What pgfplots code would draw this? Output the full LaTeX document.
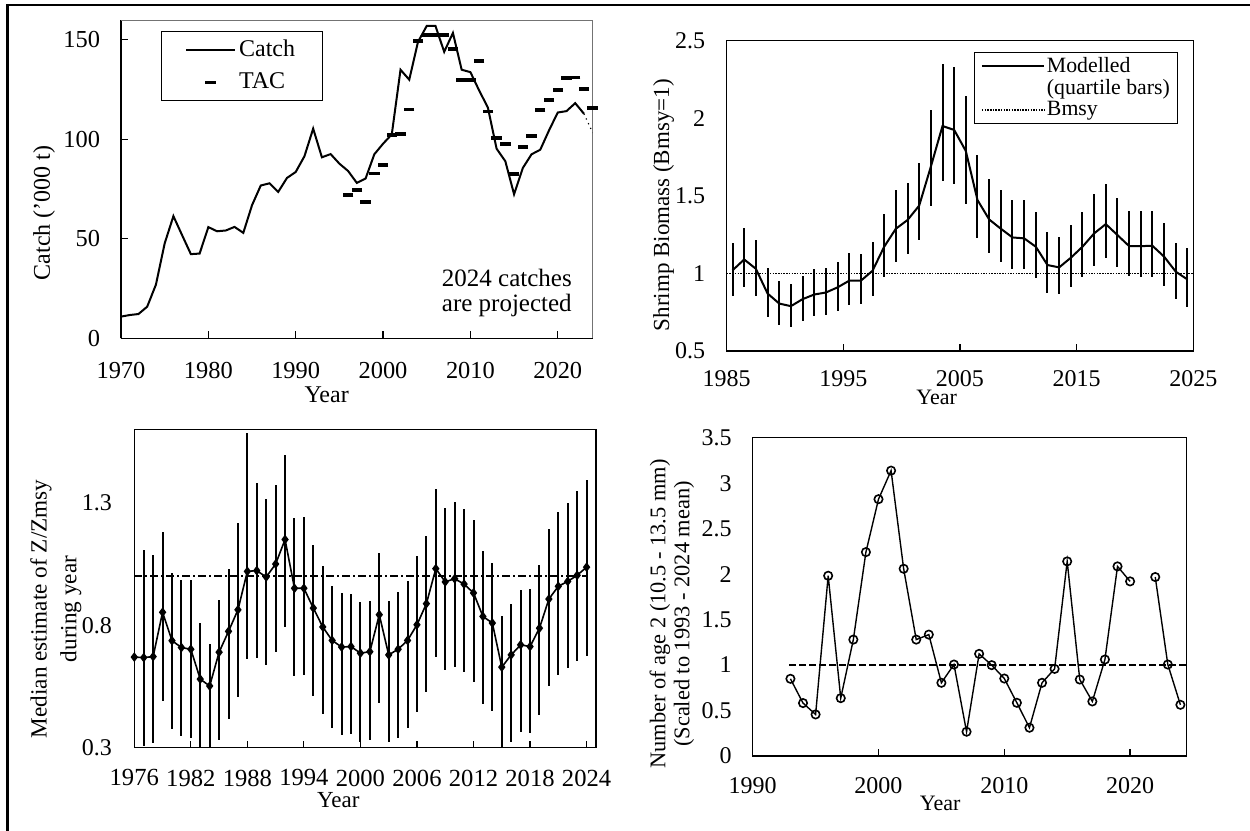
\documentclass[border=0pt]{standalone}
\usepackage{fontspec}
\setmainfont{Liberation Serif}
\usepackage{pgfplots}
\usepackage{pgfplotstable}
\pgfplotsset{compat=1.18}

\pgfplotsset{
  base/.style={scale only axis, anchor=north west, clip mode=individual,
    axis line style={black, line width=0.6pt},
    tick style={black, line width=0.6pt}, major tick length=3.5pt,
    tick align=inside, xtick pos=left, ytick pos=left,
    /pgf/number format/assume math mode=true,
    /pgf/number format/1000 sep={},
    tick label style={inner sep=0pt},
    label style={inner sep=0pt},
    xlabel style={anchor=center}, ylabel style={anchor=center}},
  catchleg/.style={legend image code/.code={\draw[##1] (0pt,0pt) -- (24.5pt,0pt);}},
  tacleg/.style={legend image code/.code={\draw[mark repeat=2,mark phase=2,##1] plot coordinates {(0pt,0pt) (12.25pt,0pt) (24.5pt,0pt)};}},
  bioleg/.style={legend image code/.code={\draw[##1] (0pt,0pt) -- (31.2pt,0pt);}},
}

\pgfplotstableread{
year catch
1970 10.9
1971 11.7
1972 12.2
1973 15.9
1974 27.0
1975 47.7
1976 61.4
1977 51.8
1978 42.3
1979 42.6
1980 55.9
1981 53.8
1982 54.2
1983 56.0
1984 53.0
1985 66.9
1986 76.8
1987 77.9
1988 73.6
1989 80.6
1990 83.6
1991 91.5
1992 105.4
1993 91.0
1994 92.6
1995 87.8
1996 84.1
1997 78.1
1998 80.3
1999 92.5
2000 97.8
2001 102.5
2002 135.0
2003 130.0
2004 149.0
2005 157.0
2006 157.0
2007 144.0
2008 153.5
2009 135.0
2010 133.8
2011 124.6
2012 116.0
2013 95.3
2014 89.0
2015 72.4
2016 85.6
2017 92.5
2018 94.8
2019 104.5
2020 113.5
2021 114.2
2022 118.2
2023 112.9
}\catchtab

\pgfplotstableread{
year tac
1996 72.2
1997 74.7
1998 68.4
1999 82.8
2000 87.0
2001 102.2
2002 102.8
2003 115.0
2004 149.3
2005 152.5
2006 152.5
2007 152.5
2008 145.5
2009 130.0
2010 130.0
2011 139.3
2012 114.0
2013 100.7
2014 97.5
2015 82.4
2016 96.2
2017 101.5
2018 114.7
2019 119.7
2020 125.0
2021 130.8
2022 131.1
2023 125.4
2024 115.9
}\tactab

\pgfplotstableread{
x y hi lo
1985.5 1.02 1.194 0.854
1986.5 1.09 1.29 0.914
1987.5 1.03 1.215 0.856
1988.5 0.871 1.032 0.72
1989.5 0.806 0.95 0.67
1990.5 0.789 0.929 0.656
1991.5 0.834 0.983 0.695
1992.5 0.864 1.026 0.725
1993.5 0.877 1.032 0.735
1994.5 0.91 1.071 0.757
1995.5 0.953 1.129 0.796
1996.5 0.953 1.123 0.802
1997.5 1.017 1.204 0.856
1998.5 1.172 1.381 0.974
1999.5 1.288 1.538 1.075
2000.5 1.344 1.585 1.125
2001.5 1.437 1.714 1.215
2002.5 1.688 2.054 1.437
2003.5 1.95 2.35 1.598
2004.5 1.925 2.329 1.576
2005.5 1.789 2.144 1.447
2006.5 1.473 1.763 1.226
2007.5 1.348 1.606 1.129
2008.5 1.288 1.538 1.075
2009.5 1.232 1.473 1.028
2010.5 1.226 1.473 1.028
2011.5 1.172 1.398 0.968
2012.5 1.054 1.269 0.877
2013.5 1.039 1.237 0.865
2014.5 1.101 1.312 0.914
2015.5 1.172 1.398 0.974
2016.5 1.258 1.512 1.049
2017.5 1.318 1.574 1.097
2018.5 1.247 1.488 1.039
2019.5 1.176 1.404 0.983
2020.5 1.176 1.404 0.974
2021.5 1.178 1.404 0.978
2022.5 1.108 1.327 0.92
2023.5 1.011 1.198 0.834
2024.5 0.961 1.161 0.785
}\biotab

\pgfplotstableread{
x y hi lo
1976 0.670 0.670 0.670
1977 0.668 1.106 0.307
1978 0.672 1.087 0.318
1979 0.853 1.18 0.492
1980 0.737 1.013 0.376
1981 0.709 0.986 0.349
1982 0.702 0.985 0.341
1983 0.580 0.809 0.25
1984 0.552 0.723 0.25
1985 0.690 0.904 0.331
1986 0.775 1.03 0.416
1987 0.863 1.218 0.505
1988 1.02 1.584 0.662
1989 1.023 1.382 0.666
1990 0.997 1.316 0.638
1991 1.05 1.371 0.69
1992 1.15 1.496 0.791
1993 0.951 1.239 0.591
1994 0.951 1.243 0.595
1995 0.87 1.129 0.513
1996 0.793 1.043 0.438
1997 0.738 0.959 0.379
1998 0.711 0.932 0.352
1999 0.713 0.929 0.355
2000 0.686 0.893 0.325
2001 0.692 0.898 0.331
2002 0.843 1.093 0.481
2003 0.679 0.9 0.325
2004 0.702 0.936 0.341
2005 0.738 0.982 0.379
2006 0.802 1.084 0.445
2007 0.888 1.164 0.529
2008 1.031 1.355 0.67
2009 0.977 1.28 0.618
2010 0.99 1.304 0.629
2011 0.968 1.273 0.611
2012 0.932 1.229 0.57
2013 0.836 1.105 0.479
2014 0.809 1.054 0.45
2015 0.629 0.836 0.25
2016 0.679 0.888 0.322
2017 0.72 0.945 0.363
2018 0.713 0.948 0.359
2019 0.788 1.048 0.434
2020 0.907 1.191 0.55
2021 0.959 1.262 0.597
2022 0.979 1.3 0.625
2023 1.004 1.35 0.655
2024 1.037 1.393 0.675
}\ztab

\pgfplotstableread{
year n
1993 0.849
1994 0.582
1995 0.457
1996 1.982
1997 0.636
1998 1.28
1999 2.242
2000 2.824
2001 3.138
2002 2.059
2003 1.28
2004 1.335
2005 0.805
2006 1.006
2007 0.267
2008 1.123
2009 0.999
2010 0.852
2011 0.585
2012 0.311
2013 0.805
2014 0.958
2015 2.14
2016 0.841
2017 0.6
2018 1.061
2019 2.085
2020 1.92
2021 nan
2022 1.968
2023 1.006
2024 0.563
}\agetab

\begin{document}
\begin{tikzpicture}
\useasboundingbox (0pt,-415.5pt) rectangle (625pt,0pt);
\draw[line width=1.35pt] (3.65pt,-420pt) -- (3.65pt,-2.5pt) -- (630pt,-2.5pt);

% ---------- Panel 1: Catch ----------
\begin{axis}[base, at={(60.5pt,-10pt)}, width=235.85pt, height=159.15pt,
  xmin=1970, xmax=2024, ymin=0, ymax=160,
  xtick={1970,1980,...,2020}, ytick={0,50,100,150},
  axis x line*=bottom, axis y line*=left, tick align=inside,
  tick label style={font=\fontsize{12.2}{12}\selectfont},
  xticklabel style={yshift=-11.6pt}, yticklabel style={xshift=-10.3pt},
  xlabel={Year}, ylabel={Catch ('000 t)},
  label style={font=\fontsize{12}{14}\selectfont},
  xlabel style={at={(axis description cs:0.436,-0.177)}},
  ylabel style={at={(axis description cs:-0.163,0.394)}},
  legend style={at={(axis description cs:0.084,0.966)}, anchor=north west,
    draw=black, line width=0.5pt, font=\fontsize{12}{12}\selectfont,
    inner xsep=12pt, inner ysep=3pt, row sep=3.5pt, nodes={inner sep=1.5pt}},
  legend cell align=left]
\draw[black!55, line width=0.5pt] (rel axis cs:0,1) -- (rel axis cs:1,1) -- (rel axis cs:1,0);
\addplot[black, line width=1pt, catchleg] table[x=year, y=catch]{\catchtab};
\addlegendentry{Catch}
\addplot[black, only marks, mark=-, mark size=2.6pt, mark options={line width=1.9pt}, tacleg] table[x=year, y=tac]{\tactab};
\addlegendentry{TAC}
\addplot[black, line width=0.6pt, dotted, forget plot] coordinates {(2023,112.9) (2024,103.3)};
\node[align=center, font=\fontsize{12.5}{12.85}\selectfont, inner sep=0pt] at (axis description cs:0.818,0.142) {2024 catches\\are projected};
\end{axis}

% ---------- Panel 2: Biomass ----------
\begin{axis}[base, at={(363.35pt,-20.35pt)}, width=233.3pt, height=155.15pt,
  xmin=1985, xmax=2025, ymin=0.5, ymax=2.5,
  xtick={1985,1995,...,2025}, ytick={0.5,1,1.5,2,2.5},
  ytick style={draw=none},
  tick label style={font=\fontsize{12}{12}\selectfont},
  xticklabel style={yshift=-9.7pt}, yticklabel style={xshift=-10.6pt},
  xlabel={Year}, ylabel={Shrimp Biomass (Bmsy=1)},
  xlabel style={font=\fontsize{11}{12}\selectfont, at={(axis description cs:0.45,-0.151)}},
  ylabel style={font=\fontsize{11.5}{13}\selectfont, at={(axis description cs:-0.135,0.47)}},
  bioleg,
  legend style={at={(axis description cs:0.531,0.963)}, anchor=north west,
    draw=black, line width=0.5pt, font=\fontsize{10.9}{11}\selectfont,
    inner xsep=3pt, inner ysep=1.5pt, row sep=0.3pt, nodes={inner sep=0.8pt}},
  legend cell align=left]
\addplot[black, dash pattern=on 0.75pt off 0.6pt, line width=0.8pt, forget plot] coordinates {(1985,1) (2025,1)};
\addplot[black, line width=1pt, mark=none, forget plot,
  error bars/.cd, y dir=both, y explicit, error mark=none,
  error bar style={line width=1pt, black, solid}]
  table[x=x, y=y, y error plus expr=\thisrow{hi}-\thisrow{y}, y error minus expr=\thisrow{y}-\thisrow{lo}]{\biotab};
\addlegendimage{black, line width=1pt}
\addlegendentry{Modelled}
\addlegendimage{empty legend}
\addlegendentry{(quartile bars)}
\addlegendimage{black, dash pattern=on 0.75pt off 0.6pt, line width=0.8pt}
\addlegendentry{Bmsy}
\end{axis}

% ---------- Panel 3: Z/Zmsy ----------
\begin{axis}[base, at={(67.15pt,-214.65pt)}, width=230.85pt, height=159.2pt,
  xmin=1976, xmax=2025, ymin=0.3, ymax=1.6,
  xtick={1976,1982,...,2024}, ytick={0.3,0.8,1.3},
  ytick style={draw=none},
  xticklabel style={font=\fontsize{12.3}{12}\selectfont, yshift=-10.8pt},
  yticklabel style={font=\fontsize{12}{12}\selectfont, xshift=-11pt},
  xlabel={Year}, ylabel={Median estimate of Z/Zmsy\\during year},
  xlabel style={font=\fontsize{11.5}{13}\selectfont, at={(axis description cs:0.442,-0.163)}},
  ylabel style={font=\fontsize{11.6}{14.85}\selectfont, align=center, at={(axis description cs:-0.17,0.436)}}]
\addplot[black, dash pattern=on 4pt off 1.5pt on 1pt off 1.5pt, line width=0.9pt] coordinates {(1976,1) (2024,1)};
\addplot[black, line width=0.8pt, mark=diamond*, mark size=1.8pt,
  error bars/.cd, y dir=both, y explicit, error mark=none,
  error bar style={line width=1pt, black, solid}]
  table[x=x, y=y, y error plus expr=\thisrow{hi}-\thisrow{y}, y error minus expr=\thisrow{y}-\thisrow{lo}]{\ztab};
\end{axis}

% ---------- Panel 4: age 2 ----------
\begin{axis}[base, at={(376.35pt,-218.85pt)}, width=217pt, height=159.15pt,
  xmin=1990, xmax=2024.5, ymin=0, ymax=3.5,
  xtick={1990,2000,2010,2020}, ytick={0,0.5,...,3.5},
  ytick style={draw=none},
  tick label style={font=\fontsize{12}{12}\selectfont},
  xticklabel style={yshift=-10.4pt}, yticklabel style={xshift=-10.3pt},
  xlabel={Year}, ylabel={Number of age 2 (10.5 - 13.5 mm)\\(Scaled to 1993 - 2024 mean)},
  xlabel style={font=\fontsize{11}{12}\selectfont, at={(axis description cs:0.432,-0.149)}},
  ylabel style={font=\fontsize{11.2}{12}\selectfont, align=center, at={(axis description cs:-0.186,0.446)}},
  unbounded coords=jump]
\addplot[black, dash pattern=on 3.5pt off 1.5pt, line width=0.9pt] coordinates {(1992.9,1) (2024.5,1)};
\addplot[black, line width=0.7pt, mark=o, mark size=2.1pt, mark options={line width=0.8pt}] table[x=year, y=n]{\agetab};
\end{axis}
\end{tikzpicture}
\end{document}
